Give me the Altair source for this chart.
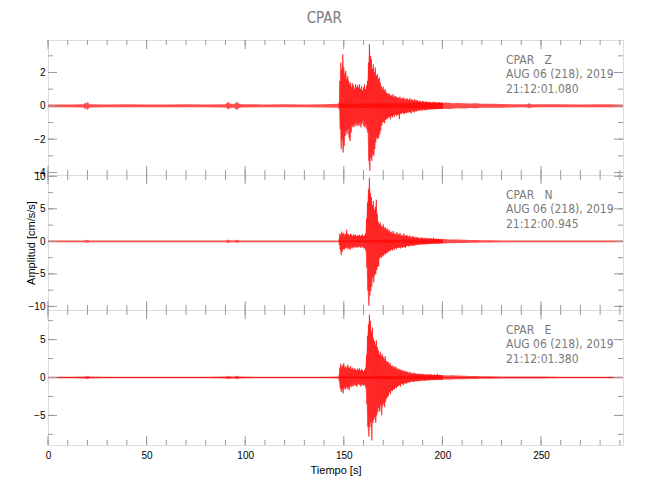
import altair as alt
import pandas as pd

FONT = "Liberation Sans Narrow, DejaVu Sans Condensed, sans-serif"
GRAY = "#9a9a9a"
TXT = "#7a7a7a"
W, H = 575, 135
X_MAX = 291.6

# ---------------- time axis (seconds) ----------------
ACT_START = 147.5     # first sample of the strong-motion section
ACT_STEP = 0.5        # sample spacing of the strong-motion section
pre_t = [0, 10, 18, 19, 19.5, 20, 21, 30, 40, 50, 60, 70, 80, 90, 91, 91.5, 92,
         94, 95.5, 96, 96.5, 98, 110, 120, 130, 140, 147.5]
tail_t = [200, 201, 203, 205, 208, 211, 214, 217, 220, 225, 230, 235, 240, 243, 244,
          245, 250, 260, 270, 280, 291.6]

# ---------------- component Z ----------------
z_hi = [0.2, 1.5, 2.6, 2.2, 3.1, 2.3, 1.9, 2.1, 1.6, 1.8,
        1.5, 1.3, 1.4, 1.1, 1.35, 1.2, 1.0, 1.3, 1.1, 1.25,
        1.1, 1.3, 1.0, 1.2, 0.9, 1.1, 1.3, 1.0, 1.2, 1.5,
        2.6, 3.7, 3.0, 2.8, 2.2, 2.5, 2.0, 2.3, 1.8, 1.9,
        1.6, 1.7, 1.4, 1.2, 1.0, 1.15, 0.9, 1.0, 0.8, 0.75,
        0.7, 0.75, 0.6, 0.65, 0.55, 0.7, 0.5, 0.6, 0.55, 0.5,
        0.5, 0.45, 0.55, 0.4, 0.45, 0.5, 0.4, 0.45, 0.35, 0.45,
        0.4, 0.35, 0.45, 0.3, 0.4, 0.35, 0.3, 0.4, 0.3, 0.35,
        0.3, 0.25, 0.3, 0.28, 0.22, 0.3, 0.25, 0.2, 0.28, 0.24,
        0.22, 0.25, 0.2, 0.23, 0.18, 0.22, 0.2, 0.25, 0.18, 0.2,
        0.2, 0.18, 0.22, 0.17, 0.2, 0.18]
z_lo = [-0.2, -1.4, -2.6, -2.0, -2.8, -2.4, -1.8, -1.5, -1.7, -1.4,
        -1.9, -2.1, -1.6, -1.2, -1.3, -1.1, -1.25, -1.0, -1.2, -1.1,
        -1.2, -1.0, -1.3, -1.1, -0.9, -1.2, -1.3, -1.1, -1.4, -1.6,
        -3.3, -3.9, -3.1, -3.3, -2.9, -3.0, -2.6, -2.2, -1.9, -2.0,
        -1.9, -1.7, -1.5, -1.2, -1.0, -0.95, -1.05, -0.85, -0.8, -0.75,
        -0.7, -0.65, -0.8, -0.6, -0.7, -0.55, -0.65, -0.5, -0.6, -0.55,
        -0.5, -0.8, -0.45, -0.5, -0.4, -0.45, -0.5, -0.4, -0.45, -0.4,
        -0.4, -0.35, -0.4, -0.45, -0.3, -0.35, -0.4, -0.3, -0.35, -0.3,
        -0.28, -0.3, -0.22, -0.27, -0.3, -0.22, -0.25, -0.28, -0.2, -0.26,
        -0.2, -0.24, -0.22, -0.18, -0.23, -0.2, -0.18, -0.22, -0.2, -0.17,
        -0.18, -0.2, -0.17, -0.19, -0.16, -0.18]
z_pre_hi = [0.08, 0.08, 0.1, 0.2, 0.12, 0.24, 0.1, 0.08, 0.09, 0.08, 0.08, 0.09, 0.08, 0.1,
            0.18, 0.26, 0.14, 0.1, 0.18, 0.28, 0.14, 0.1, 0.08, 0.09, 0.08, 0.1, 0.12]
z_pre_lo = [-0.08, -0.08, -0.1, -0.22, -0.12, -0.26, -0.1, -0.08, -0.09, -0.08, -0.08, -0.09, -0.08, -0.1,
            -0.16, -0.24, -0.14, -0.1, -0.2, -0.26, -0.14, -0.1, -0.08, -0.09, -0.08, -0.1, -0.12]
z_tail_hi = [0.18, 0.18, 0.2, 0.16, 0.17, 0.15, 0.14, 0.15, 0.12, 0.12, 0.11, 0.1, 0.09, 0.1, 0.16,
             0.1, 0.09, 0.09, 0.08, 0.09, 0.08]
z_tail_lo = [-0.18, -0.17, -0.19, -0.17, -0.15, -0.16, -0.13, -0.14, -0.12, -0.11, -0.12, -0.1, -0.09, -0.1, -0.15,
             -0.1, -0.09, -0.08, -0.09, -0.08, -0.08]

# ---------------- component N ----------------
n_hi = [0.4, 1.2, 1.0, 1.5, 1.1, 1.3, 0.9, 1.2, 1.8, 1.1,
        1.1, 0.9, 1.2, 1.0, 0.8, 1.1, 0.9, 1.0, 0.8, 0.9,
        0.9, 1.0, 0.8, 0.9, 1.1, 0.8, 0.9, 1.2, 3.5, 6.0,
        8.0, 9.8, 7.4, 6.8, 5.5, 6.2, 4.8, 5.3, 6.4, 4.2,
        3.0, 2.6, 2.9, 2.4, 2.2, 2.6, 2.0, 2.2, 1.8, 2.0,
        1.6, 1.8, 1.4, 1.5, 1.2, 1.6, 1.1, 1.3, 1.0, 1.4,
        1.1, 1.0, 1.3, 0.9, 1.0, 0.8, 1.2, 0.9, 0.8, 1.0,
        0.8, 0.7, 0.9, 0.6, 0.7, 0.8, 0.6, 0.7, 0.55, 0.65,
        0.6, 0.5, 0.55, 0.45, 0.6, 0.5, 0.45, 0.55, 0.4, 0.5,
        0.45, 0.4, 0.5, 0.4, 0.45, 0.35, 0.6, 0.4, 0.35, 0.4,
        0.35, 0.4, 0.3, 0.35, 0.3, 0.32]
n_lo = [-0.5, -1.3, -2.1, -1.6, -1.2, -1.3, -1.0, -1.1, -0.9, -1.2,
        -1.0, -1.3, -0.9, -1.1, -0.8, -1.0, -0.9, -0.8, -1.0, -0.85,
        -0.8, -0.9, -1.0, -0.8, -0.9, -1.1, -1.0, -1.5, -4.0, -7.5,
        -9.9, -8.3, -7.6, -6.9, -5.5, -6.3, -5.2, -5.0, -4.4, -3.9,
        -3.8, -2.6, -2.4, -2.5, -2.1, -2.3, -1.9, -2.0, -1.8, -1.7,
        -1.6, -1.4, -1.5, -1.2, -1.4, -1.1, -1.3, -1.0, -1.2, -1.0,
        -1.0, -0.9, -1.1, -0.8, -1.0, -0.9, -0.8, -1.0, -0.8, -0.7,
        -0.7, -0.8, -0.6, -0.7, -0.65, -0.6, -0.7, -0.55, -0.6, -0.5,
        -0.5, -0.55, -0.45, -0.5, -0.4, -0.5, -0.45, -0.4, -0.5, -0.4,
        -0.4, -0.45, -0.35, -0.4, -0.35, -0.4, -0.3, -0.35, -0.4, -0.3,
        -0.3, -0.35, -0.3, -0.28, -0.32, -0.3]
n_pre_hi = [0.12, 0.12, 0.14, 0.22, 0.15, 0.26, 0.14, 0.12, 0.12, 0.12, 0.12, 0.12, 0.12, 0.13,
            0.2, 0.3, 0.16, 0.14, 0.2, 0.28, 0.16, 0.13, 0.12, 0.12, 0.12, 0.13, 0.15]
n_pre_lo = [-0.12, -0.12, -0.14, -0.2, -0.15, -0.25, -0.14, -0.12, -0.12, -0.12, -0.12, -0.12, -0.12, -0.13,
            -0.22, -0.28, -0.16, -0.14, -0.18, -0.26, -0.16, -0.13, -0.12, -0.12, -0.12, -0.13, -0.15]
n_tail_hi = [0.32, 0.35, 0.3, 0.3, 0.28, 0.25, 0.22, 0.2, 0.18, 0.16, 0.15, 0.14, 0.13, 0.13, 0.15,
             0.13, 0.12, 0.12, 0.12, 0.12, 0.12]
n_tail_lo = [-0.3, -0.32, -0.3, -0.28, -0.27, -0.24, -0.22, -0.2, -0.18, -0.16, -0.15, -0.14, -0.13, -0.13, -0.14,
             -0.13, -0.12, -0.12, -0.12, -0.12, -0.12]

# ---------------- component E ----------------
e_hi = [0.4, 1.3, 1.8, 1.4, 1.6, 1.9, 1.3, 1.5, 1.2, 1.7,
        1.4, 1.2, 1.5, 1.1, 1.3, 1.0, 1.2, 1.1, 0.9, 1.2,
        1.0, 1.2, 0.9, 1.1, 1.0, 0.8, 1.0, 1.3, 3.0, 5.5,
        7.0, 8.3, 7.5, 6.0, 6.6, 5.2, 4.8, 4.3, 4.9, 4.0,
        3.6, 3.0, 3.4, 2.8, 3.1, 2.7, 2.4, 2.8, 2.2, 2.0,
        2.1, 1.7, 1.9, 1.5, 1.6, 1.3, 1.5, 1.2, 1.4, 1.1,
        1.2, 1.0, 1.1, 0.9, 1.0, 0.8, 0.9, 0.85, 0.7, 0.8,
        0.7, 0.6, 0.75, 0.55, 0.6, 0.5, 0.65, 0.5, 0.55, 0.45,
        0.5, 0.45, 0.5, 0.4, 0.45, 0.5, 0.4, 0.45, 0.35, 0.4,
        0.4, 0.35, 0.45, 0.35, 0.4, 0.3, 0.35, 0.4, 0.3, 0.35,
        0.5, 0.3, 0.35, 0.3, 0.32, 0.28]
e_lo = [-0.5, -1.4, -1.9, -1.5, -2.1, -1.3, -1.6, -1.2, -1.5, -1.3,
        -1.7, -1.1, -1.3, -1.0, -1.2, -0.9, -1.1, -1.0, -1.2, -0.9,
        -0.9, -1.0, -1.2, -0.9, -1.0, -1.1, -0.9, -1.4, -3.5, -6.5,
        -7.8, -6.5, -5.8, -8.3, -6.0, -5.6, -5.2, -6.0, -5.0, -4.6,
        -4.0, -4.5, -3.6, -5.0, -3.8, -3.4, -3.9, -3.2, -2.8, -2.6,
        -2.4, -1.9, -2.2, -1.7, -1.8, -1.5, -1.6, -1.3, -1.4, -1.2,
        -1.1, -1.0, -1.2, -0.9, -0.8, -1.0, -0.8, -0.7, -0.85, -0.7,
        -0.6, -0.7, -0.55, -0.6, -0.5, -0.55, -0.6, -0.45, -0.5, -0.5,
        -0.45, -0.5, -0.4, -0.45, -0.4, -0.35, -0.45, -0.4, -0.35, -0.4,
        -0.35, -0.4, -0.3, -0.35, -0.3, -0.35, -0.3, -0.28, -0.35, -0.3,
        -0.3, -0.28, -0.3, -0.25, -0.3, -0.27]
e_pre_hi = [0.1, 0.1, 0.12, 0.18, 0.13, 0.22, 0.12, 0.1, 0.1, 0.1, 0.1, 0.1, 0.1, 0.12,
            0.18, 0.24, 0.15, 0.12, 0.2, 0.28, 0.16, 0.12, 0.1, 0.1, 0.1, 0.11, 0.12]
e_pre_lo = [-0.1, -0.1, -0.12, -0.2, -0.13, -0.22, -0.12, -0.1, -0.1, -0.1, -0.1, -0.1, -0.1, -0.12,
            -0.2, -0.24, -0.15, -0.12, -0.18, -0.26, -0.16, -0.12, -0.1, -0.1, -0.1, -0.11, -0.12]
e_tail_hi = [0.28, 0.3, 0.28, 0.3, 0.25, 0.22, 0.2, 0.2, 0.18, 0.15, 0.14, 0.13, 0.12, 0.12, 0.13,
             0.12, 0.12, 0.11, 0.11, 0.11, 0.11]
e_tail_lo = [-0.27, -0.28, -0.3, -0.27, -0.24, -0.22, -0.2, -0.19, -0.17, -0.15, -0.14, -0.13, -0.12, -0.12, -0.13,
             -0.12, -0.12, -0.11, -0.11, -0.11, -0.11]

# ---------------- axes / labels ----------------
x_minor = [0, 10, 20, 30, 40, 50, 60, 70, 80, 90, 100, 110, 120, 130, 140, 150,
           160, 170, 180, 190, 200, 210, 220, 230, 240, 250, 260, 270, 280, 290]
x_major = [0, 50, 100, 150, 200, 250]
NB = "\u00a0"
panels = [
    dict(name="Z", hi=z_hi, lo=z_lo, pre_hi=z_pre_hi, pre_lo=z_pre_lo, tail_hi=z_tail_hi, tail_lo=z_tail_lo,
         domain=[-4.15, 3.95], major=[-4, -2, 0, 2], minor=[-4, -3, -2, -1, 0, 1, 2, 3],
         info=["CPAR" + NB * 3 + "Z", "AUG 06 (218), 2019", "21:12:01.080"], base=None),
    dict(name="N", hi=n_hi, lo=n_lo, pre_hi=n_pre_hi, pre_lo=n_pre_lo, tail_hi=n_tail_hi, tail_lo=n_tail_lo,
         domain=[-10.55, 10.2], major=[-10, -5, 0, 5, 10], minor=[-10, -7.5, -5, -2.5, 0, 2.5, 5, 7.5, 10],
         info=["CPAR" + NB * 3 + "N", "AUG 06 (218), 2019", "21:12:00.945"], base=None),
    dict(name="E", hi=e_hi, lo=e_lo, pre_hi=e_pre_hi, pre_lo=e_pre_lo, tail_hi=e_tail_hi, tail_lo=e_tail_lo,
         domain=[-8.9, 8.9], major=[-5, 0, 5], minor=[-7.5, -5, -2.5, 0, 2.5, 5, 7.5],
         info=["CPAR" + NB * 3 + "E", "AUG 06 (218), 2019", "21:12:01.380"], base="#8a1a1a"),
]


def make_panel(p, idx):
    act_t = [ACT_START + ACT_STEP * i for i in range(len(p["hi"]))]
    quiet = pd.DataFrame({"t": pre_t + tail_t, "hi": p["pre_hi"] + p["tail_hi"],
                          "lo": p["pre_lo"] + p["tail_lo"]})
    act = pd.DataFrame({"t": act_t, "hi": p["hi"], "lo": p["lo"]})
    # strong-motion trace drawn as a zig-zag: each sample's peak, then its trough half a step later
    zz_t, zz_v = [], []
    for t, a, b in zip(act_t, p["hi"], p["lo"]):
        zz_t += [t, t + ACT_STEP / 2]
        zz_v += [a, b]
    zz = pd.DataFrame({"t": zz_t, "v": zz_v, "k": list(range(len(zz_t)))})

    xs = alt.Scale(domain=[0, X_MAX], nice=False, zero=False)
    ys = alt.Scale(domain=p["domain"], nice=False, zero=False)
    if idx == 2:
        xaxis = alt.Axis(values=x_major, ticks=False, domain=False, grid=False, labelFlush=False,
                         labelPadding=5, title="Tiempo [s]", titlePadding=4, titleFontWeight="normal")
    else:
        xaxis = None
    yaxis = alt.Axis(values=p["major"], ticks=False, domain=False, grid=False, labelPadding=3,
                     labelFlush=False, labelOverlap=False,
                     title="Amplitud [cm/s/s]" if idx == 1 else None, titleFontWeight="normal",
                     titleX=-17, titleY=H / 2, titleAngle=270, titleAlign="center", titleBaseline="middle")

    layers = []
    if p["base"]:
        layers.append(alt.Chart(quiet).mark_rule(color=p["base"], strokeWidth=0.8, opacity=0.6).encode(
            y=alt.datum(0, scale=ys, axis=yaxis)))
    layers.append(alt.Chart(quiet).mark_area(color="#ff2020", opacity=0.8, clip=True).encode(
        x=alt.X("t:Q", scale=xs, axis=xaxis),
        y=alt.Y("lo:Q", scale=ys, axis=yaxis),
        y2="hi:Q",
    ))
    layers.append(alt.Chart(act).mark_area(color="#ff3030", opacity=0.5, clip=True).encode(
        x=alt.X("t:Q", scale=xs, axis=xaxis),
        y=alt.Y("lo:Q", scale=ys, axis=yaxis),
        y2="hi:Q",
    ))
    layers.append(alt.Chart(zz).mark_line(color="#ff0000", strokeWidth=0.6, opacity=0.9, clip=True).encode(
        x=alt.X("t:Q", scale=xs, axis=xaxis),
        y=alt.Y("v:Q", scale=ys, axis=yaxis),
        order="k:Q",
    ))

    ymin = pd.DataFrame({"v": p["minor"]})
    ymaj = pd.DataFrame({"v": p["major"]})
    xmin = pd.DataFrame({"v": x_minor})
    xmaj = pd.DataFrame({"v": x_major})
    for d, L in ((ymin, 5), (ymaj, 9)):
        for x0, x1 in ((0, L), (W, W - L)):
            layers.append(alt.Chart(d).mark_rule(color=GRAY, strokeWidth=1).encode(
                y=alt.Y("v:Q", scale=ys, axis=yaxis), x=alt.value(x0), x2=alt.value(x1)))
    for d, L in ((xmin, 5), (xmaj, 9)):
        for y0, y1 in ((0, L), (H, H - L)):
            layers.append(alt.Chart(d).mark_rule(color=GRAY, strokeWidth=1).encode(
                x=alt.X("v:Q", scale=xs, axis=xaxis), y=alt.value(y0), y2=alt.value(y1)))

    info = pd.DataFrame({"txt": [p["info"]]})
    layers.append(alt.Chart(info).mark_text(align="left", baseline="top", font=FONT, fontSize=12,
                                            color=TXT, lineHeight=14.3).encode(
        x=alt.value(458), y=alt.value(15), text="txt:N"))
    return alt.layer(*layers).properties(width=W, height=H)


chart = alt.vconcat(*[make_panel(p, i) for i, p in enumerate(panels)], spacing=0, bounds="flush").properties(
    title=alt.TitleParams("CPAR", fontSize=15, font=FONT, color=TXT, fontWeight="normal", anchor="middle", offset=13),
    padding={"left": 16, "top": 3, "right": 5, "bottom": 5},
).configure_view(stroke=GRAY, strokeWidth=1).configure_axis(
    labelFont=FONT, labelFontSize=12, labelColor=TXT, titleFont=FONT, titleFontSize=13,
    titleColor=TXT, titleFontWeight="normal",
).configure(background="white")

chart.save("out.html", embed_options={"renderer": "svg", "actions": False})
